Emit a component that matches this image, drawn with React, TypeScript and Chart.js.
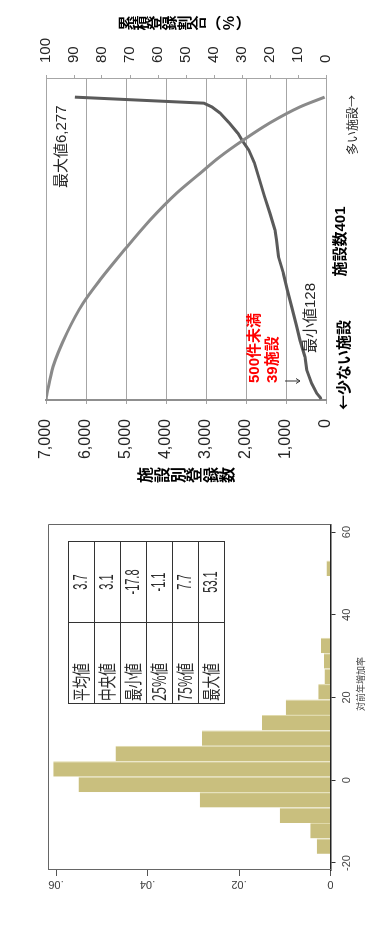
import React, { useEffect, useRef } from "react";
import { Chart, registerables } from "chart.js";

Chart.register(...registerables);

// ---------- 施設別登録数 / 累積登録割合 ----------
// 施設別登録数 (facilities sorted from fewest to most registrations), read at selected ranks
const facilityRank = [1, 3, 9, 22, 40, 57, 79, 97, 123, 146, 168, 190, 212, 225, 247, 270, 291, 314, 331, 342, 353, 367, 380, 388, 393, 401];
const registrations = [128, 140, 233, 358, 483, 525, 650, 733, 858, 967, 1067, 1190, 1240, 1275, 1400, 1540, 1660, 1790, 1930, 2075, 2200, 2420, 2650, 2850, 3050, 6277];

// 累積登録割合 (%) at selected ranks
const cumulativeRank = [1, 9, 44, 89, 128, 159, 196, 238, 274, 300, 322, 344, 367, 388, 401];
const cumulativeShare = [100, 99.6, 97.5, 92.5, 86.8, 80.7, 72.6, 62.9, 53.3, 45, 37.9, 29.6, 20, 9.3, 0.5];

const registrationTicks = [0, 1000, 2000, 3000, 4000, 5000, 6000, 7000];
const shareTicks = [0, 10, 20, 30, 40, 50, 60, 70, 80, 90, 100];
const rankAxisMax = 425;

// ---------- 対前年増加率 histogram ----------
const statLabels = ["平均値", "中央値", "最小値", "25%値", "75%値", "最大値"];
const statValues = [3.7, 3.1, -17.8, -1.1, 7.7, 53.1];
const binDensity = [
  0.003, 0.0044, 0.0111, 0.0286, 0.0551, 0.0606, 0.047, 0.0281, 0.015, 0.0098,
  0.0027, 0.0013, 0.0014, 0.0021, 0, 0, 0, 0, 0.0009,
];
const growthTicks = [-20, 0, 20, 40, 60];
const densityTicks = [0, 0.02, 0.04, 0.06];

const SANS = '"Liberation Sans", Arial, sans-serif';
const JP = '"Noto Sans CJK JP", sans-serif';
const MIXED = '"Liberation Sans", "Noto Sans CJK JP", sans-serif';
const INK = "#262626";

function put(ctx: CanvasRenderingContext2D, text: string, x: number, y: number, font: string, color: string, align: CanvasTextAlign) {
  ctx.font = font;
  ctx.fillStyle = color;
  ctx.textAlign = align;
  ctx.textBaseline = "middle";
  ctx.fillText(text, x, y);
}

// characters stacked top-to-bottom, centred on (cx, cy)
function stacked(ctx: CanvasRenderingContext2D, chars: string[], cx: number, cy: number, step: number, font: string, color: string) {
  ctx.font = font;
  ctx.fillStyle = color;
  ctx.textAlign = "center";
  ctx.textBaseline = "middle";
  const start = cy - ((chars.length - 1) * step) / 2;
  chars.forEach((c, i) => ctx.fillText(c, cx, start + i * step));
}

function squeezed(ctx: CanvasRenderingContext2D, text: string, x: number, y: number, sx: number, font: string, align: CanvasTextAlign) {
  ctx.save();
  ctx.translate(x, y);
  ctx.scale(sx, 1);
  ctx.font = font;
  ctx.textAlign = align;
  ctx.textBaseline = "middle";
  ctx.fillText(text, 0, 0);
  ctx.restore();
}

const lineChartNotes = {
  id: "lineChartNotes",
  afterDraw(chart: any) {
    const ctx: CanvasRenderingContext2D = chart.ctx;
    const area = chart.chartArea;
    const mid = (area.top + area.bottom) / 2;
    ctx.save();

    put(ctx, "最大値6,277", 302, 62, `15px ${MIXED}`, INK, "left");
    put(ctx, "最小値128", 137, 311, `15px ${MIXED}`, INK, "left");
    put(ctx, "500件未満", 107, 254.5, `bold 15px ${MIXED}`, "#ff0000", "left");
    put(ctx, "39施設", 107, 272.5, `bold 15px ${MIXED}`, "#ff0000", "left");

    // small pointer toward the 39th facility
    ctx.strokeStyle = "#333";
    ctx.lineWidth = 1;
    ctx.beginPath();
    ctx.moveTo(109, 285);
    ctx.lineTo(109, 300);
    ctx.moveTo(106.5, 296);
    ctx.lineTo(109, 300);
    ctx.lineTo(111.5, 296);
    ctx.stroke();

    put(ctx, "施設数401", (area.left + area.right) / 2 - 2, 341, `bold 15px ${MIXED}`, "#000", "center");
    put(ctx, "←少ない施設", 80, 343, `bold 15px ${JP}`, "#000", "left");
    put(ctx, "多い施設→", 395, 352.5, `12px ${JP}`, INK, "right");

    stacked(ctx, ["施", "設", "別", "登", "録", "数"], 15, mid, 16.3, `bold 16px ${JP}`, "#000");
    stacked(ctx, ["累", "積", "登", "録", "割", "合", "︵", "%", "︶"], 467, mid - 2, 14.7, `bold 15px ${JP}`, "#000");

    ctx.restore();
  },
};

const histogramNotes = {
  id: "histogramNotes",
  afterDraw(chart: any) {
    const ctx: CanvasRenderingContext2D = chart.ctx;
    const a = chart.chartArea;
    ctx.save();

    // plot frame (top and right sides)
    ctx.strokeStyle = "#666";
    ctx.lineWidth = 1;
    ctx.beginPath();
    ctx.moveTo(a.left, a.top + 0.5);
    ctx.lineTo(a.right + 0.5, a.top + 0.5);
    ctx.lineTo(a.right + 0.5, a.bottom);
    ctx.stroke();

    // summary table
    const left = 229.5, split = 310.5, right = 391.5, top = 68.5, rowH = 26;
    const bottom = top + rowH * statLabels.length;
    ctx.strokeStyle = "#333";
    ctx.lineWidth = 1;
    ctx.strokeRect(left, top, right - left, bottom - top);
    ctx.beginPath();
    ctx.moveTo(split, top);
    ctx.lineTo(split, bottom);
    for (let i = 1; i < statLabels.length; i++) {
      ctx.moveTo(left, top + rowH * i);
      ctx.lineTo(right, top + rowH * i);
    }
    ctx.stroke();
    ctx.fillStyle = "#2a2a2a";
    statLabels.forEach((lab, i) => {
      const cy = top + rowH * (i + 0.5);
      squeezed(ctx, lab, left + 2.5, cy, 0.7, `18px ${JP}`, "left");
      squeezed(ctx, statValues[i].toFixed(1), (split + right) / 2, cy, 0.55, `20px ${SANS}`, "center");
    });

    // x-axis title
    put(ctx, "対前年増加率", 249, 361, `9px ${JP}`, "#444", "center");

    ctx.restore();
  },
};

function buildLineChart(canvas: HTMLCanvasElement) {
  return new Chart(canvas, {
    type: "line",
    data: {
      datasets: [
        {
          label: "累積登録割合",
          data: cumulativeRank.map((r, i) => ({ x: r, y: cumulativeShare[i] })),
          yAxisID: "y2",
          borderColor: "#8a8a8a",
          borderWidth: 3,
          pointRadius: 0,
          cubicInterpolationMode: "monotone",
          fill: false,
        },
        {
          label: "施設別登録数",
          data: facilityRank.map((r, i) => ({ x: r, y: registrations[i] })),
          yAxisID: "y",
          borderColor: "#5a5a5a",
          borderWidth: 3,
          pointRadius: 0,
          tension: 0,
          fill: false,
        },
      ],
    },
    options: {
      responsive: false,
      animation: false,
      events: [],
      layout: { padding: { top: 46, left: 0, right: 0, bottom: 0 } },
      plugins: { legend: { display: false }, tooltip: { enabled: false } },
      scales: {
        x: {
          type: "linear",
          min: 0,
          max: rankAxisMax,
          ticks: { display: false },
          grid: { display: false },
          border: { display: false },
          afterFit: (s: any) => {
            s.height = 48;
          },
        },
        y: {
          position: "left",
          min: 0,
          max: registrationTicks[registrationTicks.length - 1],
          afterBuildTicks: (s: any) => {
            s.ticks = registrationTicks.map((v) => ({ value: v }));
          },
          ticks: {
            callback: (v: any) => Number(v).toLocaleString("en-US"),
            font: { family: SANS, size: 16 },
            color: INK,
            padding: 15,
          },
          grid: { color: "#a6a6a6", lineWidth: 1, tickLength: 4 },
          border: { color: "#8f8f8f", width: 2 },
          afterFit: (s: any) => {
            s.width = 90;
          },
        },
        y2: {
          position: "right",
          min: 0,
          max: shareTicks[shareTicks.length - 1],
          afterBuildTicks: (s: any) => {
            s.ticks = shareTicks.map((v) => ({ value: v }));
          },
          ticks: {
            font: { family: SANS, size: 15 },
            color: INK,
            padding: 12,
          },
          grid: { drawOnChartArea: false, color: "#a6a6a6", tickLength: 4 },
          border: { color: "#a6a6a6", width: 1 },
          afterFit: (s: any) => {
            s.width = 79;
          },
        },
      },
    } as any,
    plugins: [lineChartNotes],
  });
}

function buildHistogram(canvas: HTMLCanvasElement) {
  const lo = statValues[2];
  const hi = statValues[5];
  const binWidth = (hi - lo) / binDensity.length;
  const bins = binDensity.map((d, i) => ({ x: lo + binWidth * (i + 0.5), y: d }));

  return new Chart(canvas, {
    type: "bar",
    data: {
      datasets: [
        {
          data: bins,
          backgroundColor: "#c9bf7e",
          borderColor: "#e0d9aa",
          borderWidth: { top: 0, right: 1, bottom: 0, left: 0 },
          borderSkipped: false,
          barPercentage: 1,
          categoryPercentage: 1,
          inflateAmount: 0,
        },
      ],
    },
    options: {
      responsive: false,
      animation: false,
      events: [],
      layout: { padding: { top: 48, right: 25, left: 0, bottom: 0 } },
      plugins: { legend: { display: false }, tooltip: { enabled: false } },
      scales: {
        x: {
          type: "linear",
          min: -21.7,
          max: 61.7,
          offset: false,
          afterBuildTicks: (s: any) => {
            s.ticks = growthTicks.map((v) => ({ value: v }));
          },
          ticks: {
            font: { family: SANS, size: 11 },
            color: "#444",
            padding: 4.5,
            maxRotation: 0,
            minRotation: 0,
          },
          grid: { drawOnChartArea: false, offset: false, tickLength: 5, color: "#333" },
          border: { color: "#222", width: 1.5 },
          afterFit: (s: any) => {
            s.height = 43.5;
          },
        },
        y: {
          min: 0,
          max: 0.06175,
          afterBuildTicks: (s: any) => {
            s.ticks = densityTicks.map((v) => ({ value: v }));
          },
          ticks: {
            callback: (v: any) => (v === 0 ? "0" : String(v).replace(/^0/, "")),
            font: { family: SANS, size: 11 },
            color: "#444",
            minRotation: 90,
            maxRotation: 90,
            crossAlign: "center",
            padding: 0,
          },
          grid: { drawOnChartArea: false, tickLength: 6, color: "#555" },
          border: { color: "#666", width: 1 },
          afterFit: (s: any) => {
            s.width = 63;
          },
        },
      },
    } as any,
    plugins: [histogramNotes],
  });
}

export default function App() {
  const histRef = useRef<HTMLCanvasElement>(null);
  const lineRef = useRef<HTMLCanvasElement>(null);

  useEffect(() => {
    const hist = buildHistogram(histRef.current!);
    const line = buildLineChart(lineRef.current!);
    return () => {
      hist.destroy();
      line.destroy();
    };
  }, []);

  // both charts are laid out side by side, then the strip is turned a quarter
  // turn counter-clockwise to stand upright in the page
  return (
    <div
      style={{
        position: "absolute",
        left: 0,
        top: 0,
        width: 933,
        height: 374,
        background: "#fff",
        transformOrigin: "0 0",
        transform: "translateY(933px) rotate(-90deg)",
      }}
    >
      <canvas
        ref={histRef}
        width={433}
        height={374}
        style={{ position: "absolute", left: 0, top: 0, width: 433, height: 374, filter: "blur(0.45px)" }}
      />
      <canvas
        ref={lineRef}
        width={490}
        height={374}
        style={{ position: "absolute", left: 443, top: 0, width: 490, height: 374 }}
      />
    </div>
  );
}
